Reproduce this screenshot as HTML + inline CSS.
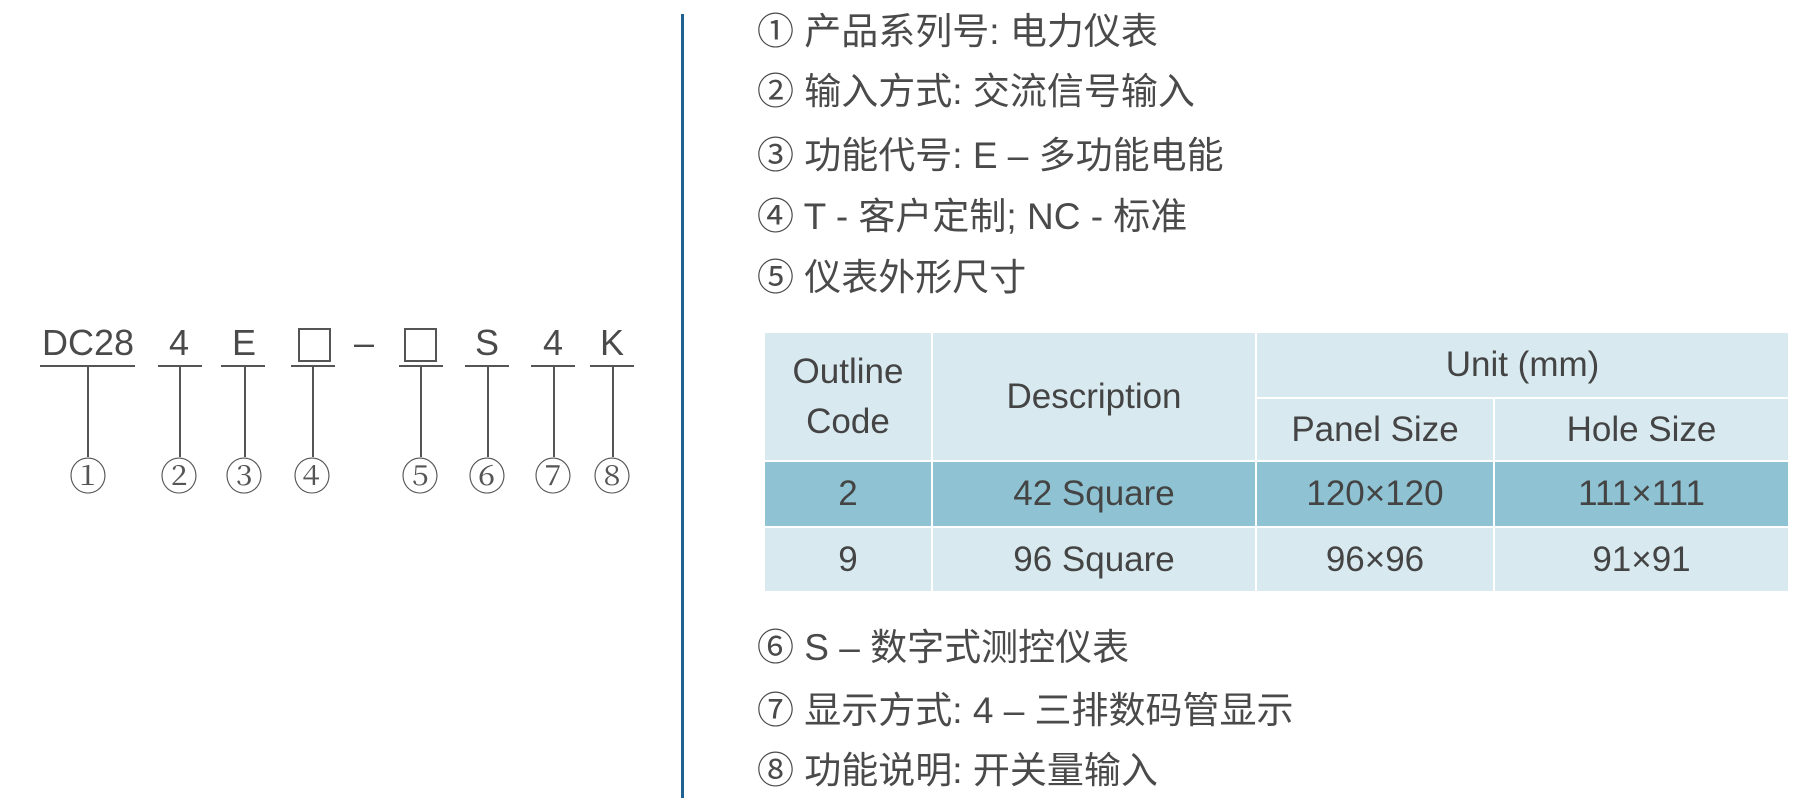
<!DOCTYPE html>
<html><head><meta charset="utf-8"><style>
body{margin:0;width:1813px;height:809px;background:#fff;position:relative;overflow:hidden;font-family:"Liberation Sans","Noto Sans CJK SC",sans-serif;color:#4a4a4a}
.ul{position:absolute;height:2px;background:#555;top:365px}
.vl{position:absolute;width:1.5px;background:#555;top:366px;height:91px}
.cn{position:absolute;top:446px;transform:translateX(-50%);font-family:"Liberation Serif","Noto Serif CJK SC",serif;font-size:38px;color:#555}
.top{position:absolute;top:322px;font-size:36px;transform:translateX(-50%);color:#4a4a4a}
.box{position:absolute;width:33px;height:34px;border:2px solid #555;box-sizing:border-box;top:328px}
.ln{position:absolute;left:757px;font-size:37px;line-height:40px;font-family:"Liberation Sans","Noto Sans CJK SC",sans-serif;white-space:nowrap}
.cell{position:absolute;display:flex;align-items:center;justify-content:center;text-align:center;font-size:35px;line-height:50px;color:#444}
.l{background:#d8eaf0}.d{background:#8fc3d3}
</style></head><body>
<div class="top" style="left:88px">DC28</div>
<div class="top" style="left:179px">4</div>
<div class="top" style="left:244px">E</div>
<div class="box" style="left:298px"></div>
<div class="top" style="left:364px">–</div>
<div class="box" style="left:404px"></div>
<div class="top" style="left:487px">S</div>
<div class="top" style="left:553px">4</div>
<div class="top" style="left:612px">K</div>
<div class="ul" style="left:40px;width:95px"></div>
<div class="ul" style="left:158px;width:44px"></div>
<div class="ul" style="left:221px;width:44px"></div>
<div class="ul" style="left:291px;width:44px"></div>
<div class="ul" style="left:399px;width:44px"></div>
<div class="ul" style="left:465px;width:44px"></div>
<div class="ul" style="left:531px;width:44px"></div>
<div class="ul" style="left:590px;width:44px"></div>
<div class="vl" style="left:87px"></div>
<div class="vl" style="left:179px"></div>
<div class="vl" style="left:244px"></div>
<div class="vl" style="left:312px"></div>
<div class="vl" style="left:420px"></div>
<div class="vl" style="left:487px"></div>
<div class="vl" style="left:553px"></div>
<div class="vl" style="left:612px"></div>
<div class="cn" style="left:88px">①</div>
<div class="cn" style="left:179px">②</div>
<div class="cn" style="left:244px">③</div>
<div class="cn" style="left:312px">④</div>
<div class="cn" style="left:420px">⑤</div>
<div class="cn" style="left:487px">⑥</div>
<div class="cn" style="left:553px">⑦</div>
<div class="cn" style="left:612px">⑧</div>
<div style="position:absolute;left:681px;top:14px;width:3px;height:784px;background:#1e6390"></div>
<div class="ln" style="top:12px">① 产品系列号: 电力仪表</div>
<div class="ln" style="top:72px">② 输入方式: 交流信号输入</div>
<div class="ln" style="top:136px">③ 功能代号: E – 多功能电能</div>
<div class="ln" style="top:197px">④ T - 客户定制; NC - 标准</div>
<div class="ln" style="top:258px">⑤ 仪表外形尺寸</div>
<div class="ln" style="top:628px">⑥ S – 数字式测控仪表</div>
<div class="ln" style="top:691px">⑦ 显示方式: 4 – 三排数码管显示</div>
<div class="ln" style="top:751px">⑧ 功能说明: 开关量输入</div>
<div class="cell l" style="left:765px;top:333px;width:166px;height:127px">Outline<br>Code</div>
<div class="cell l" style="left:933px;top:333px;width:322px;height:127px">Description</div>
<div class="cell l" style="left:1257px;top:333px;width:531px;height:64px">Unit (mm)</div>
<div class="cell l" style="left:1257px;top:399px;width:236px;height:61px">Panel Size</div>
<div class="cell l" style="left:1495px;top:399px;width:293px;height:61px">Hole Size</div>
<div class="cell d" style="left:765px;top:462px;width:166px;height:64px">2</div>
<div class="cell d" style="left:933px;top:462px;width:322px;height:64px">42 Square</div>
<div class="cell d" style="left:1257px;top:462px;width:236px;height:64px">120×120</div>
<div class="cell d" style="left:1495px;top:462px;width:293px;height:64px">111×111</div>
<div class="cell l" style="left:765px;top:528px;width:166px;height:63px">9</div>
<div class="cell l" style="left:933px;top:528px;width:322px;height:63px">96 Square</div>
<div class="cell l" style="left:1257px;top:528px;width:236px;height:63px">96×96</div>
<div class="cell l" style="left:1495px;top:528px;width:293px;height:63px">91×91</div>
</body></html>
